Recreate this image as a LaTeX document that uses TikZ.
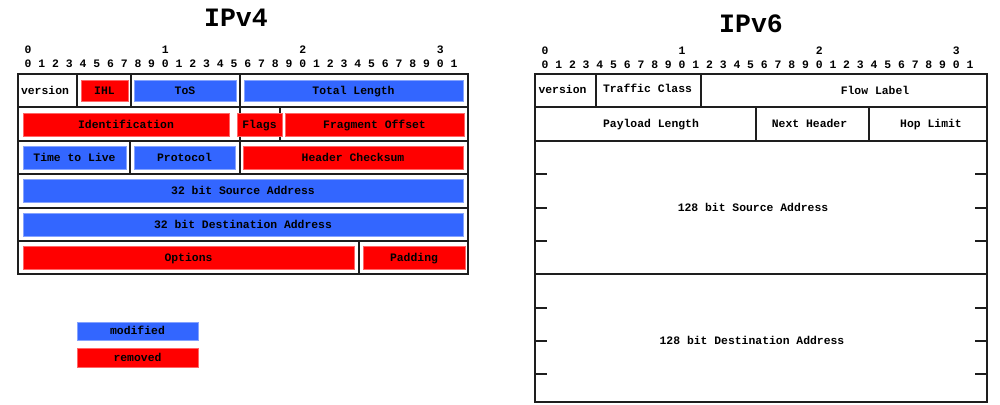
\documentclass[tikz,border=0pt]{standalone}
\usepackage{fontspec}
\setmonofont{Liberation Mono}
\usepackage{xcolor}
\definecolor{modif}{HTML}{3366FF}
\definecolor{remov}{HTML}{FF0000}
\definecolor{rule}{HTML}{1E1E1E}
\usepackage{tikz}

\tikzset{
  field/.style={font=\ttfamily\bfseries\fontsize{11.4}{13}\selectfont, inner sep=0pt, text height=9.5, text depth=2},
  modified/.style={field, fill=modif, draw=modif!60!white, line width=0.8},
  removed/.style={field, fill=remov, draw=remov!60!white, line width=0.8},
  bitno/.style={field},
  title/.style={font=\ttfamily\bfseries\fontsize{26.5}{30}\selectfont, inner sep=0pt, anchor=base},
  frame/.style={draw=rule, line width=1.5},
  sep/.style={draw=rule, line width=2},
}

\begin{document}
\begin{tikzpicture}[x=1pt,y=-1pt]
  \useasboundingbox (0,0) rectangle (1000,404);

  %% IPv4 header
  \node[title] (t4) at (236,27) {IPv4};
  \foreach \t in {0,1,2,3}
    \node[bitno] (v4t\t) at ({28+137.4*\t},50) {\t};
  \foreach \i in {0,...,31} {
    \pgfmathtruncatemacro{\d}{mod(\i,10)}
    \node[bitno] (v4b\i) at ({28+13.74*\i},64) {\d};
  }

  \draw[frame] (18,74) rectangle (468,274);
  \foreach \y in {107,141,174,208,241}
    \draw[frame] (18,\y) -- (468,\y);
  \draw[sep] (77,74) -- (77,107);
  \draw[sep] (131,74) -- (131,107);
  \draw[sep] (240,74) -- (240,174);
  \draw[sep] (280,107) -- (280,141);
  \draw[sep] (130,141) -- (130,175);
  \draw[sep] (359,241) -- (359,275);

  \node[field] (ver4) at (45,91) {version};
  \node[removed, minimum width=47, minimum height=21] (ihl) at (104.5,90.5) {IHL};
  \node[modified, minimum width=102, minimum height=21] (tos) at (185,90.5) {ToS};
  \node[modified, minimum width=219, minimum height=21] (tlen) at (353.5,90.5) {Total Length};

  \node[removed, minimum width=206, minimum height=23] (ident) at (126,124.5) {Identification};
  \node[removed, minimum width=45, minimum height=23] (flags) at (259.5,124.5) {Flags};
  \node[removed, minimum width=179, minimum height=23] (frag) at (374.5,124.5) {Fragment Offset};

  \node[modified, minimum width=103, minimum height=23] (ttl) at (74.5,157.5) {Time to Live};
  \node[modified, minimum width=101, minimum height=23] (proto) at (184.5,157.5) {Protocol};
  \node[removed, minimum width=220, minimum height=23] (chk) at (353,157.5) {Header Checksum};

  \node[modified, minimum width=440, minimum height=23] (src4) at (243,190.5) {32 bit Source Address};
  \node[modified, minimum width=440, minimum height=23] (dst4) at (243,224.5) {32 bit Destination Address};

  \node[removed, minimum width=331, minimum height=23] (opts) at (188.5,257.5) {Options};
  \node[removed, minimum width=102, minimum height=23] (pad) at (414,257.5) {Padding};

  %% legend
  \node[modified, minimum width=121, minimum height=18] (lmod) at (137.5,331) {modified};
  \node[removed, minimum width=121, minimum height=19] (lrem) at (137.5,357.5) {removed};

  %% IPv6 header
  \node[title] (t6) at (751,33) {IPv6};
  \foreach \t in {0,1,2,3}
    \node[bitno] (v6t\t) at ({545+137.1*\t},51) {\t};
  \foreach \i in {0,...,31} {
    \pgfmathtruncatemacro{\d}{mod(\i,10)}
    \node[bitno] (v6b\i) at ({545+13.71*\i},65) {\d};
  }

  \draw[frame] (535,74) rectangle (987,402);
  \foreach \y in {107,141,274}
    \draw[frame] (535,\y) -- (987,\y);
  \draw[sep] (596,74) -- (596,107);
  \draw[sep] (701,74) -- (701,107);
  \draw[sep] (756,107) -- (756,141);
  \draw[sep] (869,107) -- (869,141);
  \foreach \y in {174,208,241,308,341,374} {
    \draw[sep] (535,\y) -- (547,\y);
    \draw[sep] (975,\y) -- (987,\y);
  }

  \node[field] (ver6) at (562.5,90) {version};
  \node[field] (tclass) at (647.5,89) {Traffic Class};
  \node[field] (flow) at (875,91) {Flow Label};
  \node[field] (plen) at (651,124) {Payload Length};
  \node[field] (nxt) at (809.5,124) {Next Header};
  \node[field] (hop) at (931,124) {Hop Limit};
  \node[field] (src6) at (753,208) {128 bit Source Address};
  \node[field] (dst6) at (752,341) {128 bit Destination Address};
\end{tikzpicture}
\end{document}
